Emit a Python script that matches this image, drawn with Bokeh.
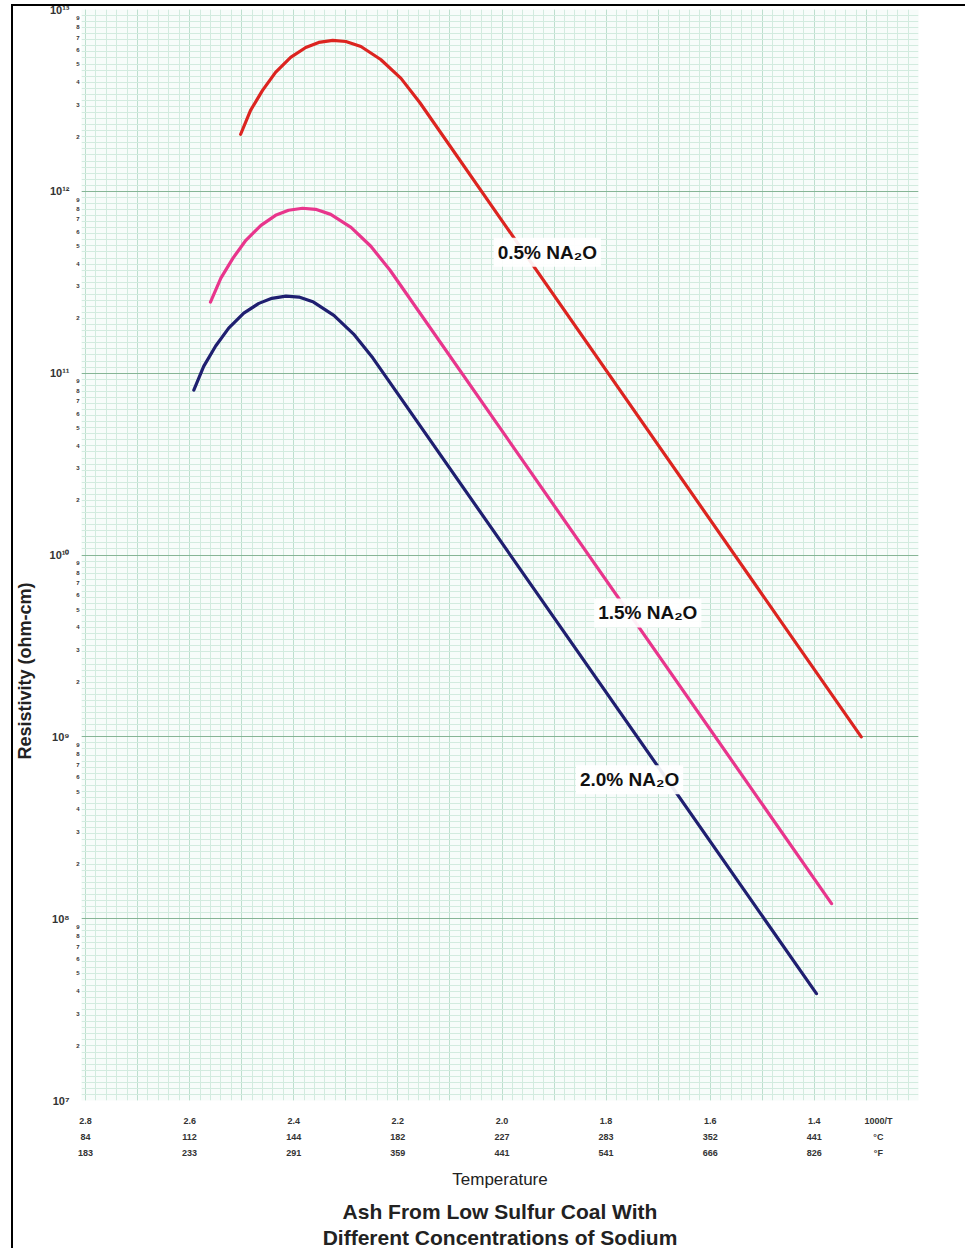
import math
from bokeh.plotting import figure
from bokeh.models import (Range1d, LinearAxis, LogAxis, FixedTicker, Label,
                          Title, Grid, ColumnDataSource)
from bokeh.embed import file_html
from bokeh.resources import INLINE

# ---------------- data ----------------
# x = 1000/T (1/K), y = resistivity (ohm-cm)
inv_t_05 = [2.502, 2.483, 2.460, 2.435, 2.406, 2.377, 2.352, 2.325, 2.300,
            2.271, 2.233, 2.194, 2.158, 1.310]
rho_05 = [2.06e12, 2.79e12, 3.59e12, 4.51e12, 5.45e12, 6.18e12, 6.59e12,
          6.76e12, 6.67e12, 6.26e12, 5.31e12, 4.18e12, 3.08e12, 1.0e9]

inv_t_15 = [2.560, 2.540, 2.517, 2.492, 2.463, 2.435, 2.410, 2.383, 2.358,
            2.329, 2.290, 2.252, 2.215, 1.367]
rho_15 = [2.46e11, 3.33e11, 4.28e11, 5.38e11, 6.50e11, 7.38e11, 7.87e11,
          8.07e11, 7.96e11, 7.47e11, 6.34e11, 4.99e11, 3.68e11, 1.21e8]

inv_t_20 = [2.592, 2.573, 2.550, 2.525, 2.496, 2.467, 2.442, 2.415, 2.390,
            2.362, 2.323, 2.285, 2.248, 1.396]
rho_20 = [8.07e10, 1.09e11, 1.41e11, 1.77e11, 2.14e11, 2.42e11, 2.58e11,
          2.65e11, 2.62e11, 2.46e11, 2.08e11, 1.64e11, 1.21e11, 3.87e7]

series_names = ["0.5% NA\u2082O", "1.5% NA\u2082O", "2.0% NA\u2082O"]

tick_inv_t = [2.8, 2.6, 2.4, 2.2, 2.0, 1.8, 1.6, 1.4]
tick_inv_t_text = ["2.8", "2.6", "2.4", "2.2", "2.0", "1.8", "1.6", "1.4"]
tick_deg_c = ["84", "112", "144", "182", "227", "283", "352", "441"]
tick_deg_f = ["183", "233", "291", "359", "441", "541", "666", "826"]
unit_names = ["1000/T", "\u00b0C", "\u00b0F"]

decade_exps = [7, 8, 9, 10, 11, 12, 13]
decade_text = ["10\u2077", "10\u2078", "10\u2079", "10\u00b9\u2070",
               "10\u00b9\u00b9", "10\u00b9\u00b2", "10\u00b9\u00b3"]
minor_digits = [2, 3, 4, 5, 6, 7, 8, 9]

x_title = "Temperature"
y_title = "Resistivity (ohm-cm)"
chart_title = ["Ash From Low Sulfur Coal With", "Different Concentrations of Sodium"]

# ---------------- figure ----------------
FONT = "Liberation Sans"
UNIT_X = 1.277

p = figure(width=965, height=1248,
           x_range=Range1d(2.8077, 1.2), y_range=Range1d(1e7, 1e13),
           y_axis_type="log", x_axis_location=None, y_axis_location=None,
           output_backend="svg", toolbar_location=None,
           min_border_left=81, min_border_right=47,
           min_border_top=9, min_border_bottom=147)
p.xgrid.visible = False
p.ygrid.visible = False
p.outline_line_color = None
p.background_fill_color = "#f7fcfa"
p.border_fill_color = None
p.styles = {
    "background": ("linear-gradient(#000,#000) 11px 4px / 2px 1244px no-repeat, "
                   "linear-gradient(#000,#000) 11px 4px / 960px 2px no-repeat, white")
}

# graph-paper grid
x_major = [round(1.2 + 0.1 * i, 2) for i in range(17)]
x_minor = [round(1.2 + 0.02 * i, 2) for i in range(82)]
xg = Grid(dimension=0, ticker=FixedTicker(ticks=x_major, minor_ticks=x_minor),
          grid_line_color="#bddfce", grid_line_width=1,
          minor_grid_line_color="#d2ebdf", minor_grid_line_width=1)
y_major = [10.0 ** e for e in decade_exps]
y_minor = [10.0 ** (7 + k / 30.0) for k in range(181)]
yg = Grid(dimension=1, ticker=FixedTicker(ticks=y_major, minor_ticks=y_minor),
          grid_line_color="#86b596", grid_line_width=1.2,
          minor_grid_line_color="#d2ebdf", minor_grid_line_width=1)
p.add_layout(xg)
p.add_layout(yg)

# curves
colors = ["#dc2420", "#e8358c", "#1f1f70"]
for xs, ys, c in [(inv_t_05, rho_05, colors[0]),
                  (inv_t_15, rho_15, colors[1]),
                  (inv_t_20, rho_20, colors[2])]:
    src = ColumnDataSource(dict(x=xs, y=ys))
    p.line("x", "y", source=src, line_color=c, line_width=3.2,
           line_cap="round", line_join="round")

# series labels
label_pos = [(2.016, 4.62e11), (1.823, 4.80e9), (1.858, 5.80e8)]
for (lx, ly), name in zip(label_pos, series_names):
    p.add_layout(Label(x=lx, y=ly, text=name, text_align="left",
                       text_baseline="middle", text_font=FONT,
                       text_font_size="19px", text_font_style="bold",
                       text_color="#111111", background_fill_color="white",
                       background_fill_alpha=0.92, padding=4))

# ---------------- bottom axes (three rows) ----------------
rows = [tick_inv_t_text, tick_deg_c, tick_deg_f]
standoffs = [15, 3, 3]
for i, (row, so) in enumerate(zip(rows, standoffs)):
    overrides = {t: s for t, s in zip(tick_inv_t, row)}
    overrides[UNIT_X] = unit_names[i]
    ax = LinearAxis(ticker=FixedTicker(ticks=tick_inv_t + [UNIT_X], minor_ticks=[]),
                    major_label_overrides=overrides)
    ax.axis_line_color = None
    ax.major_tick_line_color = None
    ax.minor_tick_line_color = None
    ax.major_tick_out = 0
    ax.major_tick_in = 0
    ax.minor_tick_out = 0
    ax.minor_tick_in = 0
    ax.major_label_standoff = so
    ax.major_label_text_font = FONT
    ax.major_label_text_font_size = "9px"
    ax.major_label_text_font_style = "bold"
    ax.major_label_text_color = "#333333"
    p.add_layout(ax, "below")

# ---------------- left axes ----------------
minor_ticks = []
minor_over = {}
for e in decade_exps[:-1]:
    for d in minor_digits:
        v = d * 10.0 ** e
        minor_ticks.append(v)
        minor_over[v] = str(d)
ax_minor = LogAxis(ticker=FixedTicker(ticks=minor_ticks, minor_ticks=[]),
                   major_label_overrides=minor_over)
ax_dec = LogAxis(ticker=FixedTicker(ticks=y_major, minor_ticks=[]),
                 major_label_overrides={v: t for v, t in zip(y_major, decade_text)})
for ax, fs, so in [(ax_minor, "6px", 2), (ax_dec, "11px", 4)]:
    ax.axis_line_color = None
    ax.major_tick_line_color = None
    ax.minor_tick_line_color = None
    ax.major_tick_out = 0
    ax.major_tick_in = 0
    ax.minor_tick_out = 0
    ax.minor_tick_in = 0
    ax.major_label_standoff = so
    ax.major_label_text_font = FONT
    ax.major_label_text_font_size = fs
    ax.major_label_text_font_style = "bold"
    ax.major_label_text_color = "#333333"
    ax.major_label_orientation = "horizontal"
    p.add_layout(ax, "left")

# axis titles and chart title
p.add_layout(Title(text=y_title, align="left", offset=341, standoff=23,
                   text_font=FONT, text_font_size="18px", text_font_style="bold",
                   text_color="#222222"), "left")
p.add_layout(Title(text=x_title, align="center", standoff=15,
                   text_font=FONT, text_font_size="17px", text_font_style="normal",
                   text_color="#222222"), "below")
for line, so in zip(chart_title, [2, 0]):
    p.add_layout(Title(text=line, align="center", standoff=so,
                       text_font=FONT, text_font_size="21px", text_font_style="bold",
                       text_color="#222222"), "below")

open("out.html", "w").write(file_html(p, INLINE))
